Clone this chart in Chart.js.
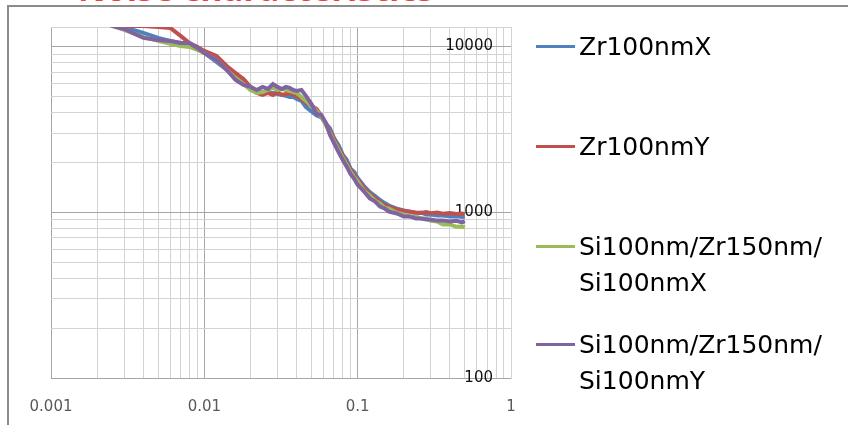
<!DOCTYPE html>
<html>
<head>
<meta charset="utf-8">
<script src="https://cdn.jsdelivr.net/npm/chart.js@4.4.1/dist/chart.umd.min.js"></script>
<style>
  body { margin: 0; background: #fff; overflow: hidden; }
  #wrap { position: relative; width: 848px; height: 425px; overflow: hidden; background: #fff; }
  #title { position: absolute; left: 78px; top: -29px; font: bold 34px "Open Sans", sans-serif; line-height: 34px; color: #f03c3c; white-space: nowrap; }
  #frame { position: absolute; left: 7px; top: 5px; width: 1000px; height: 600px; border-left: 2px solid #8c8c8c; border-top: 2px solid #8c8c8c; }
  #chart { position: absolute; left: 0; top: 0; }
  .item { position: absolute; left: 536px; font: 25px "DejaVu Sans", sans-serif; line-height: 36px; color: #000; white-space: pre; }
  .item span { position: absolute; left: 0; width: 39px; height: 3px; }
  .item div { margin-left: 43px; }
</style>
</head>
<body>
<div id="wrap">
  <div id="title">Noise characteristics</div>
  <div id="frame"></div>
  <canvas id="chart" width="848" height="425"></canvas>
  <div id="legend"></div>
</div>
<script>
// frequency (x) values
const freq = [0.002, 0.0025, 0.003, 0.004, 0.005, 0.006, 0.007, 0.008, 0.009, 0.01,
  0.012, 0.014, 0.016, 0.018, 0.02, 0.022, 0.024, 0.026, 0.028, 0.03,
  0.032, 0.034, 0.036, 0.038, 0.04, 0.043, 0.046, 0.05, 0.054, 0.058,
  0.062, 0.066, 0.07, 0.075, 0.08, 0.085, 0.09, 0.095, 0.1, 0.11,
  0.12, 0.13, 0.14, 0.15, 0.16, 0.18, 0.2, 0.22, 0.24, 0.26,
  0.28, 0.3, 0.33, 0.36, 0.4, 0.44, 0.48, 0.5];

// series values
const zrX = [14480, 13700, 13100, 12090, 11280, 10820, 10520, 10380, 9950, 9160,
  8080, 7230, 6740, 6200, 5710, 5400, 5320, 5250, 5250, 5180,
  5110, 5040, 4970, 4970, 4830, 4700, 4320, 4060, 3840, 3740,
  3430, 3210, 2820, 2540, 2230, 2070, 1830, 1750, 1610, 1440,
  1325, 1254, 1186, 1137, 1098, 1052, 1025, 1010, 985, 996,
  970, 968, 955, 957, 944, 947, 938, 944];
const zrY = [14100, 13700, 13320, 13320, 13140, 12960, 11600, 10520, 9950, 9410,
  8780, 7640, 6930, 6380, 5710, 5250, 5110, 5250, 5110, 5320,
  5110, 5180, 5250, 5110, 5040, 4830, 4570, 4380, 4200, 3810,
  3460, 3090, 2770, 2440, 2190, 1980, 1800, 1680, 1570, 1400,
  1290, 1220, 1150, 1106, 1076, 1046, 1018, 1008, 998, 992,
  1003, 988, 996, 979, 991, 976, 984, 975];
const siX = [14480, 13320, 12600, 11430, 10820, 10380, 10090, 9950, 9545, 9155,
  8310, 7230, 6470, 5950, 5470, 5250, 5320, 5470, 5630, 5470,
  5550, 5470, 5400, 5320, 5250, 4970, 4700, 4380, 4090, 3760,
  3360, 3010, 2690, 2380, 2130, 1930, 1750, 1630, 1535, 1348,
  1262, 1175, 1130, 1066, 1052, 995, 970, 941, 944, 916,
  918, 889, 880, 843, 845, 818, 822, 812];
const siY = [14900, 13320, 12780, 11280, 10970, 10820, 10520, 10520, 9810, 9155,
  8310, 7230, 6290, 5870, 5710, 5470, 5710, 5550, 5950, 5710,
  5550, 5710, 5630, 5470, 5400, 5470, 5040, 4500, 3920, 3870,
  3460, 2930, 2620, 2310, 2070, 1880, 1700, 1590, 1468, 1336,
  1211, 1162, 1083, 1054, 1010, 984, 943, 944, 917, 918,
  904, 905, 891, 893, 880, 889, 870, 884];

const seriesNames = ['Zr100nmX', 'Zr100nmY', 'Si100nm/Zr150nm/\nSi100nmX', 'Si100nm/Zr150nm/\nSi100nmY'];
const seriesColors = ['#4f81bd', '#c0504d', '#9bbb59', '#8064a2'];

// axis labels
const xTickLabels = ['0.001', '0.01', '0.1', '1'];
const yTickLabels = ['100', '1000', '10000'];
const yMax = 13130;

function decadeGrid(decades, max) {
  const out = [];
  decades.forEach(function (d) {
    for (let k = 1; k <= 9; k++) {
      if (d * k <= max) out.push(d * k);
    }
  });
  return out;
}
function isDecade(v) {
  const l = Math.log10(v);
  return Math.abs(l - Math.round(l)) < 1e-6;
}

document.addEventListener("DOMContentLoaded", function () {
  const seriesData = [zrX, zrY, siX, siY];
  const drawOrder = [3, 2, 1, 0];

  const datasets = seriesData.map(function (vals, i) {
    return {
      label: seriesNames[i],
      data: freq.map(function (f, j) { return { x: f, y: vals[j] }; }),
      borderColor: seriesColors[i],
      backgroundColor: seriesColors[i],
      borderWidth: 4,
      pointRadius: 0,
      tension: 0,
      fill: false,
      clip: 0,
      order: drawOrder[i]
    };
  });

  const gridColor = function (c) {
    return c.tick && isDecade(c.tick.value) ? '#a6a6a6' : '#d3d3d3';
  };

  const ctx = document.getElementById('chart').getContext('2d');
  new Chart(ctx, {
    type: 'line',
    data: { datasets: datasets },
    options: {
      responsive: false,
      animation: false,
      layout: { padding: { left: 51, right: 337, top: 27, bottom: 0 } },
      plugins: { legend: { display: false }, tooltip: { enabled: false } },
      scales: {
        x: {
          type: 'logarithmic',
          position: 'bottom',
          min: 0.001,
          max: 1,
          afterBuildTicks: function (s) {
            s.ticks = decadeGrid([0.001, 0.01, 0.1], 1).concat([1]).map(function (v) { return { value: v }; });
          },
          afterFit: function (s) { s.height = 47; },
          grid: { color: gridColor, drawTicks: false, lineWidth: 1 },
          border: { color: '#a6a6a6' },
          ticks: {
            autoSkip: false,
            maxRotation: 0,
            padding: 20,
            color: '#595959',
            font: { family: 'DejaVu Sans', size: 15 },
            callback: function (v) { return xTickLabels.indexOf(String(v)) >= 0 ? String(v) : ''; }
          }
        },
        y: {
          type: 'logarithmic',
          position: 'right',
          min: 100,
          max: yMax,
          afterBuildTicks: function (s) {
            s.ticks = decadeGrid([100, 1000, 10000], yMax).concat([yMax]).map(function (v) { return { value: v }; });
          },
          afterFit: function (s) { s.width = 0; },
          grid: { color: gridColor, drawTicks: false, lineWidth: 1 },
          border: { color: '#d3d3d3' },
          ticks: {
            autoSkip: false,
            mirror: true,
            padding: -18,
            color: '#111',
            font: { family: 'DejaVu Sans', size: 15 },
            callback: function (v) { return yTickLabels.indexOf(String(v)) >= 0 ? String(v) : ''; }
          }
        }
      }
    }
  });

  // legend on the right
  const legendTops = [29, 129, 229, 327];
  const legend = document.getElementById('legend');
  seriesNames.forEach(function (name, i) {
    const item = document.createElement('div');
    item.className = 'item';
    item.style.top = legendTops[i] + 'px';
    const line = document.createElement('span');
    line.style.background = seriesColors[i];
    line.style.top = '16px';
    const text = document.createElement('div');
    text.textContent = name;
    item.appendChild(line);
    item.appendChild(text);
    legend.appendChild(item);
  });
});
</script>
</body>
</html>
